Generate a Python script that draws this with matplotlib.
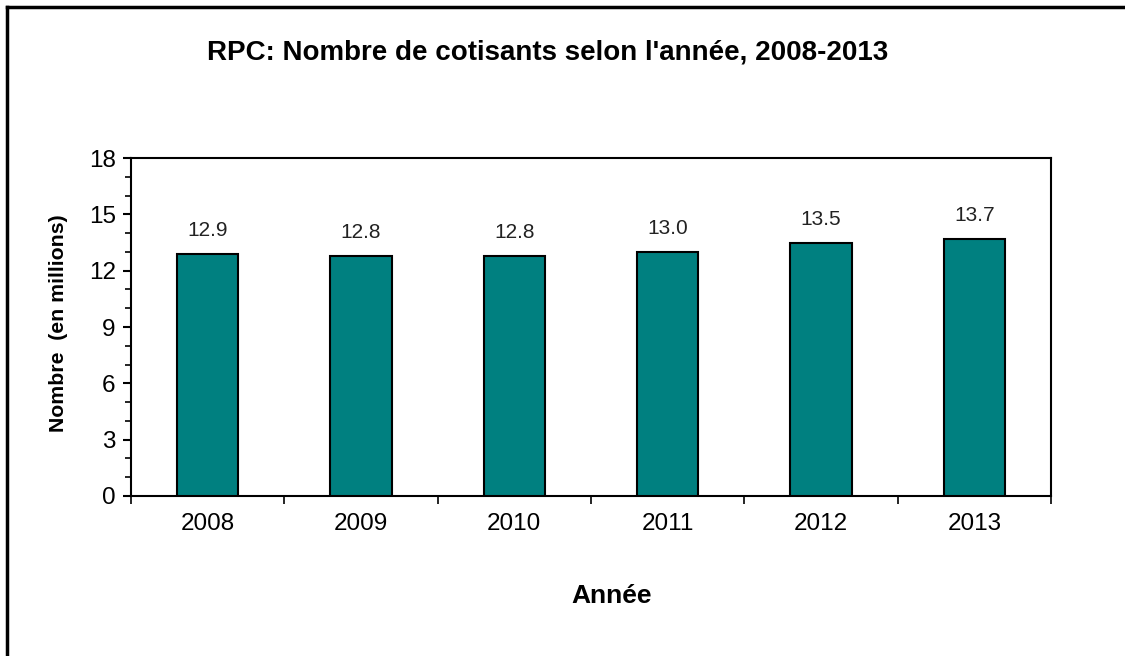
import numpy as np
import matplotlib
matplotlib.use("Agg")
import matplotlib.pyplot as plt
from matplotlib.lines import Line2D
from matplotlib.ticker import MultipleLocator, FixedLocator

# Data
years = ["2008", "2009", "2010", "2011", "2012", "2013"]
contributors = [12.9, 12.8, 12.8, 13.0, 13.5, 13.7]
y_ticks = [0, 3, 6, 9, 12, 15, 18]

plt.rcParams['font.family'] = ['Liberation Sans', 'DejaVu Sans']

fig = plt.figure(figsize=(11.25, 6.56), dpi=100)
ax = fig.add_axes([131 / 1125, 1 - 496 / 656, (1051 - 131) / 1125, (496 - 158) / 656])

# Bars
x = np.arange(len(years))
ax.bar(x, contributors, width=0.4, color="#008080", edgecolor="black", linewidth=1.5, zorder=3)

# Value labels over the bars
for xi, v in zip(x, contributors):
    ax.annotate(f"{v:.1f}", (xi, v), xytext=(0, 10), textcoords="offset points",
                ha="center", va="bottom", fontsize=15, color="#222222")

# Axes limits and ticks
ax.set_xlim(-0.5, len(years) - 0.5)
ax.set_ylim(0, 18)
ax.set_yticks(y_ticks)
ax.yaxis.set_minor_locator(MultipleLocator(1))
ax.set_xticks(x)
ax.set_xticklabels(years)
ax.xaxis.set_minor_locator(FixedLocator(np.arange(-0.5, len(years), 1.0)))

ax.tick_params(axis="x", which="major", length=0, pad=12, labelsize=17.5)
ax.tick_params(axis="x", which="minor", length=6, width=1.2, direction="out")
ax.tick_params(axis="y", which="major", length=6, width=1.5, direction="out", labelsize=17.5, pad=5)
ax.tick_params(axis="y", which="minor", length=4, width=1.2, direction="out")

for s in ax.spines.values():
    s.set_linewidth(1.5)

ax.set_ylabel("Nombre  (en millions)", fontsize=15.3, fontweight="bold")
ax.yaxis.set_label_coords(-0.068, 0.51)

fig.text(612 / 1125, 1 - 603 / 656, "Année", ha="center", va="baseline",
         fontsize=19, fontweight="bold")
fig.text(547.5 / 1125, 1 - 59 / 656, "RPC: Nombre de cotisants selon l'année, 2008-2013",
         ha="center", va="baseline", fontsize=20, fontweight="bold")

# Outer frame (only top and left visible in the crop)
fig.add_artist(Line2D([7 / 1125, 7 / 1125], [0, 1 - 7 / 656], color="black", linewidth=2.5,
                      transform=fig.transFigure))
fig.add_artist(Line2D([7 / 1125, 1], [1 - 7 / 656, 1 - 7 / 656], color="black", linewidth=2.5,
                      transform=fig.transFigure))

fig.savefig("out.png", dpi=100)
